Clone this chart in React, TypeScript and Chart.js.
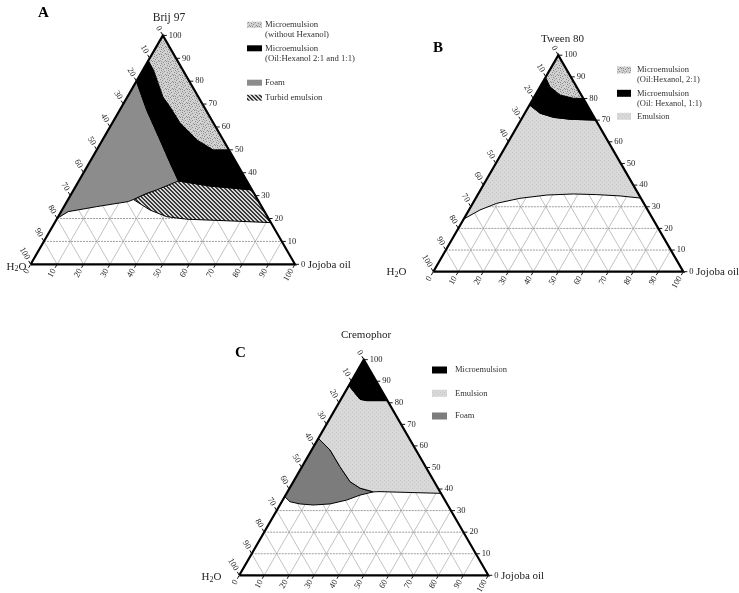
import React, { useEffect, useRef } from "react";
import { Chart, registerables } from "chart.js";

Chart.register(...registerables);

// Each point: [Jojoba oil %, surfactant %]; water % = 100 - oil - surfactant
type Pt = [number, number];

const TICKS = [0, 10, 20, 30, 40, 50, 60, 70, 80, 90, 100];
const GRID = [10, 20, 30, 40, 50, 60, 70, 80, 90];

// ---- Panel A : Brij 97 ----
const A_MICRO_NOHEX: Pt[] = [[0, 100], [0, 89], [4, 84.9], [13.5, 73.1], [18.3, 68.8], [25.6, 61.8], [35.8, 54.3], [44, 50], [50, 50]];
const A_MICRO_HEX: Pt[] = [[0, 89], [4, 84.9], [13.5, 73.1], [18.3, 68.8], [25.6, 61.8], [35.8, 54.3], [44, 50], [50, 50], [67.5, 32.5], [50.7, 34.2], [37.7, 36.4], [30.6, 44.3], [21.8, 54.3], [10.2, 67.4], [0, 80]];
const A_FOAM: Pt[] = [[0, 80], [10.2, 67.4], [21.8, 54.3], [30.6, 44.3], [37.7, 36.4], [31.4, 32.5], [28.4, 31.0], [24.7, 28.3], [23.2, 27.4], [12.4, 25.2], [2.7, 23.0], [0, 20.1]];
const A_TURBID: Pt[] = [[37.7, 36.4], [50.7, 34.2], [67.5, 32.5], [81.8, 18.2], [67.2, 18.9], [49.2, 19.7], [41.1, 20.8], [33.3, 23.7], [24.7, 28.3], [28.4, 31.0], [31.4, 32.5]];

// ---- Panel B : Tween 80 ----
const B_MICRO_21: Pt[] = [[0, 100], [0, 89.8], [4, 85.4], [9.9, 81.6], [16, 80.1], [20, 80]];
const B_MICRO_11: Pt[] = [[0, 89.8], [4, 85.4], [9.9, 81.6], [16, 80.1], [20, 80], [30, 70], [19.5, 70.4], [12.4, 71.3], [6.1, 73.2], [0, 77]];
const B_EMULSION: Pt[] = [[0, 77], [6.1, 73.2], [12.4, 71.3], [19.5, 70.4], [30, 70], [66, 34], [57.2, 35], [47.6, 35.6], [38, 35.9], [27.7, 35.4], [17.7, 33.9], [9.6, 31.6], [4.4, 28.5], [0, 24.3]];

// ---- Panel C : Cremophor ----
const C_MICRO: Pt[] = [[0, 100], [0, 88], [4.3, 84.4], [7.7, 81.6], [10.7, 81], [19, 81]];
const C_EMULSION: Pt[] = [[0, 88], [4.3, 84.4], [7.7, 81.6], [10.7, 81], [19, 81], [62, 38], [49.4, 38.4], [37.1, 38.8], [34.5, 38.7], [28.3, 40.4], [22.8, 43.4], [15.2, 50.4], [7.4, 58.1], [0, 63.5]];
const C_FOAM: Pt[] = [[0, 63.5], [7.4, 58.1], [15.2, 50.4], [22.8, 43.4], [28.3, 40.4], [34.5, 38.7], [29.9, 37.2], [25.7, 34.9], [19.9, 33.1], [13.4, 32.6], [7.8, 33.1], [3.3, 34.1], [0, 36.5]];

const OUTLINE: Pt[] = [[0, 0], [100, 0], [0, 100], [0, 0]];

const TITLES: Record<string, string> = { A: "Brij 97", B: "Tween 80", C: "Cremophor" };
const LEGEND_A = [
  { fill: "stipple", lines: ["Microemulsion", "(without Hexanol)"] },
  { fill: "black", lines: ["Microemulsion", "(Oil:Hexanol 2:1 and 1:1)"] },
  { fill: "foamA", lines: ["Foam"] },
  { fill: "hatch", lines: ["Turbid emulsion"] },
];
const LEGEND_B = [
  { fill: "stipple", lines: ["Microemulsion", "(Oil:Hexanol, 2:1)"] },
  { fill: "black", lines: ["Microemulsion", "(Oil: Hexanol, 1:1)"] },
  { fill: "emulsion", lines: ["Emulsion"] },
];
const LEGEND_C = [
  { fill: "black", lines: ["Microemulsion"] },
  { fill: "emulsion", lines: ["Emulsion"] },
  { fill: "foamC", lines: ["Foam"] },
];

// ---- layout (pixels) ----
const W = 739, H = 593;
const LAYOUT: Record<string, any> = {
  A: { ox: 30.7, oy: 264.3, side: 264.3, letter: [38, 13.5], title: [169, 18], titleSize: 11.5, h2o: [6.5, 267], legX: 247, legTX: 265, legY: [24.7, 48.3, 82.7, 97.7], legendFont: 8.7, sw: [15, 6] },
  B: { ox: 433.3, oy: 271.7, side: 250, letter: [433, 48.5], title: [562.5, 39], titleSize: 11, h2o: [386.5, 272.5], legX: 617, legTX: 637, legY: [70, 93.3, 116.3], legendFont: 8.5, sw: [14, 7] },
  C: { ox: 239.3, oy: 575.3, side: 249, letter: [235, 353.5], title: [366, 335], titleSize: 11, h2o: [201.5, 577.5], legX: 432, legTX: 455, legY: [370, 393.3, 416], legendFont: 8.5, sw: [15, 7] },
};
const LEGENDS: Record<string, any[]> = { A: LEGEND_A, B: LEGEND_B, C: LEGEND_C };

const SQ = Math.sqrt(3) / 2;
const toXY = ([o, s]: Pt) => ({ x: o / 100 + s / 200, y: (s / 100) * SQ });
const SERIF = '"Liberation Serif", "Times New Roman", serif';

function gridData(kind: string) {
  const pts: any[] = [];
  for (const k of GRID) {
    let a: Pt, b: Pt;
    if (kind === "S") { a = [0, k]; b = [100 - k, k]; }
    else if (kind === "O") { a = [k, 0]; b = [k, 100 - k]; }
    else { a = [100 - k, 0]; b = [0, 100 - k]; }
    pts.push(toXY(a), toXY(b), { x: null, y: null });
  }
  return pts;
}

function makePattern(ctx: CanvasRenderingContext2D, w: number, h: number, draw: (c: CanvasRenderingContext2D) => void) {
  const cv = document.createElement("canvas");
  cv.width = w; cv.height = h;
  const c = cv.getContext("2d")!;
  draw(c);
  return ctx.createPattern(cv, "repeat")!;
}

function makeFills(ctx: CanvasRenderingContext2D) {
  const stipple = makePattern(ctx, 7, 7, (c) => {
    c.fillStyle = "#d2d2d2"; c.fillRect(0, 0, 7, 7);
    c.fillStyle = "#8a8a8a";
    [[0, 0], [3, 1], [6, 2], [1, 3], [4, 4], [2, 6], [5, 5], [0, 5]].forEach(([x, y]) => c.fillRect(x, y, 1, 1));
    c.fillStyle = "#b4b4b4";
    [[2, 2], [5, 0], [6, 4], [3, 5], [1, 1]].forEach(([x, y]) => c.fillRect(x, y, 1, 1));
  });
  const emulsion = makePattern(ctx, 4, 4, (c) => {
    c.fillStyle = "#d8d8d8"; c.fillRect(0, 0, 4, 4);
    c.fillStyle = "#c9c9c9";
    [[0, 0], [2, 2]].forEach(([x, y]) => c.fillRect(x, y, 1, 1));
  });
  const hatch = makePattern(ctx, 4, 4, (c) => {
    c.fillStyle = "#d6d6d6"; c.fillRect(0, 0, 4, 4);
    c.fillStyle = "#3a3a3a";
    for (let i = 0; i < 4; i++) { c.fillRect(i, i, 1, 1); c.fillRect((i + 1) % 4, i, 1, 1); }
  });
  return { stipple, emulsion, hatch, black: "#000000", foamA: "#8c8c8c", foamC: "#7c7c7c" } as Record<string, any>;
}

function region(data: Pt[], id: string, bg: any) {
  return {
    type: "line", data: data.map(toXY), xAxisID: "x" + id, yAxisID: "y" + id,
    fill: "shape", backgroundColor: bg, borderColor: "#000", borderWidth: 1,
    pointRadius: 0, tension: 0, order: 2,
  };
}

function panelDatasets(id: string, fills: Record<string, any>) {
  const ds: any[] = [];
  for (const kind of ["O", "W"]) {
    ds.push({ type: "line", data: gridData(kind), xAxisID: "x" + id, yAxisID: "y" + id, borderColor: "#b3b3b3", borderWidth: 0.8, pointRadius: 0, fill: false, order: 4 });
  }
  ds.push({ type: "line", data: gridData("S"), xAxisID: "x" + id, yAxisID: "y" + id, borderColor: "#9c9c9c", borderWidth: 1, borderDash: [2, 1], pointRadius: 0, fill: false, order: 3 });
  if (id === "A") {
    ds.push(region(A_MICRO_NOHEX, id, fills.stipple));
    ds.push(region(A_MICRO_HEX, id, fills.black));
    ds.push(region(A_FOAM, id, fills.foamA));
    ds.push(region(A_TURBID, id, fills.hatch));
  } else if (id === "B") {
    ds.push(region(B_MICRO_21, id, fills.stipple));
    ds.push(region(B_MICRO_11, id, fills.black));
    ds.push(region(B_EMULSION, id, fills.emulsion));
  } else {
    ds.push(region(C_MICRO, id, fills.black));
    ds.push(region(C_EMULSION, id, fills.emulsion));
    ds.push(region(C_FOAM, id, fills.foamC));
  }
  ds.push({ type: "line", data: OUTLINE.map(toXY), xAxisID: "x" + id, yAxisID: "y" + id, borderColor: "#000", borderWidth: 2.2, borderJoinStyle: "miter", pointRadius: 0, fill: false, order: 1 });
  return ds;
}

function scalesFor(id: string) {
  const { ox, oy, side } = LAYOUT[id];
  return {
    ["x" + id]: { type: "linear", axis: "x", display: false, min: -ox / side, max: (W - ox) / side },
    ["y" + id]: { type: "linear", axis: "y", display: false, min: -(H - oy) / side, max: oy / side },
  };
}

function drawH2O(ctx: CanvasRenderingContext2D, x: number, y: number, size: number) {
  ctx.textAlign = "left"; ctx.textBaseline = "middle";
  ctx.font = `${size}px ${SERIF}`;
  ctx.fillText("H", x, y);
  let cx = x + ctx.measureText("H").width;
  ctx.font = `${size * 0.72}px ${SERIF}`;
  ctx.fillText("2", cx, y + 2);
  cx += ctx.measureText("2").width;
  ctx.font = `${size}px ${SERIF}`;
  ctx.fillText("O", cx, y);
}

function makeDecor(fills: Record<string, any>) {
  return {
    id: "ternaryDecor",
    afterDatasetsDraw(chart: any) {
      const ctx: CanvasRenderingContext2D = chart.ctx;
      ctx.save();
      for (const id of ["A", "B", "C"]) {
        const L = LAYOUT[id];
        const xs = chart.scales["x" + id], ys = chart.scales["y" + id];
        const px = (o: number, s: number) => { const q = toXY([o, s]); return { x: xs.getPixelForValue(q.x), y: ys.getPixelForValue(q.y) }; };
        ctx.strokeStyle = "#111"; ctx.fillStyle = "#222"; ctx.lineWidth = 1;
        ctx.font = `8.5px ${SERIF}`;
        // right axis (surfactant)
        for (const k of TICKS) {
          const p = px(100 - k, k);
          ctx.beginPath(); ctx.moveTo(p.x, p.y); ctx.lineTo(p.x + 4, p.y); ctx.stroke();
          ctx.textAlign = "left"; ctx.textBaseline = "middle";
          ctx.fillText(String(k), p.x + 6, p.y);
        }
        // left axis (water)
        const dl = { x: -0.5, y: -SQ };
        for (const k of TICKS) {
          const p = px(0, 100 - k);
          ctx.beginPath(); ctx.moveTo(p.x, p.y); ctx.lineTo(p.x + 4 * dl.x, p.y + 4 * dl.y); ctx.stroke();
          ctx.save();
          ctx.translate(p.x + 6 * dl.x, p.y + 6 * dl.y);
          ctx.rotate(Math.PI / 3);
          ctx.textAlign = "right"; ctx.textBaseline = "middle";
          ctx.fillText(String(k), 0, 0);
          ctx.restore();
        }
        // bottom axis (oil)
        const db = { x: -0.5, y: SQ };
        for (const k of TICKS) {
          const p = px(k, 0);
          ctx.beginPath(); ctx.moveTo(p.x, p.y); ctx.lineTo(p.x + 4 * db.x, p.y + 4 * db.y); ctx.stroke();
          ctx.save();
          ctx.translate(p.x + 6 * db.x, p.y + 6 * db.y);
          ctx.rotate(-Math.PI / 3);
          ctx.textAlign = "right"; ctx.textBaseline = "middle";
          ctx.fillText(String(k), 0, 0);
          ctx.restore();
        }
        // vertex labels
        const jv = px(100, 0);
        ctx.font = `8.5px ${SERIF}`;
        const zw = ctx.measureText("0").width;
        ctx.font = `11px ${SERIF}`;
        ctx.textAlign = "left"; ctx.textBaseline = "middle";
        ctx.fillText("Jojoba oil", jv.x + 6 + zw + 2.5, jv.y + 0.5);
        drawH2O(ctx, L.h2o[0], L.h2o[1], 11);
        // title
        ctx.font = `${L.titleSize}px ${SERIF}`;
        ctx.textAlign = "center"; ctx.textBaseline = "middle";
        ctx.fillText(TITLES[id], L.title[0], L.title[1]);
        // panel letter
        ctx.font = `bold 15px ${SERIF}`;
        ctx.fillStyle = "#000";
        ctx.textAlign = "left";
        ctx.fillText(id, L.letter[0], L.letter[1]);
        // legend
        const items = LEGENDS[id];
        items.forEach((it: any, i: number) => {
          const y = L.legY[i];
          ctx.fillStyle = fills[it.fill];
          ctx.fillRect(L.legX, y - L.sw[1] / 2, L.sw[0], L.sw[1]);
          ctx.fillStyle = "#333";
          ctx.font = `${L.legendFont}px ${SERIF}`;
          ctx.textAlign = "left"; ctx.textBaseline = "middle";
          it.lines.forEach((t: string, j: number) => ctx.fillText(t, L.legTX, y + j * 10));
        });
      }
      ctx.restore();
    },
  };
}

export default function App() {
  const ref = useRef<HTMLCanvasElement>(null);
  useEffect(() => {
    const canvas = ref.current!;
    const fills = makeFills(canvas.getContext("2d")!);
    const datasets = [...panelDatasets("A", fills), ...panelDatasets("B", fills), ...panelDatasets("C", fills)];
    const chart: any = new Chart(canvas, {
      type: "line",
      data: { datasets } as any,
      options: {
        responsive: false,
        animation: false,
        devicePixelRatio: 1,
        events: [],
        layout: { padding: 0 },
        plugins: { legend: { display: false }, tooltip: { enabled: false }, title: { display: false } },
        scales: { ...scalesFor("A"), ...scalesFor("B"), ...scalesFor("C") } as any,
      },
      plugins: [makeDecor(fills)],
    });
    return () => chart.destroy();
  }, []);
  return (
    <div style={{ position: "absolute", left: 0, top: 0, width: W, height: H, background: "#fff" }}>
      <canvas ref={ref} width={W} height={H} style={{ display: "block", width: W, height: H }} />
    </div>
  );
}
